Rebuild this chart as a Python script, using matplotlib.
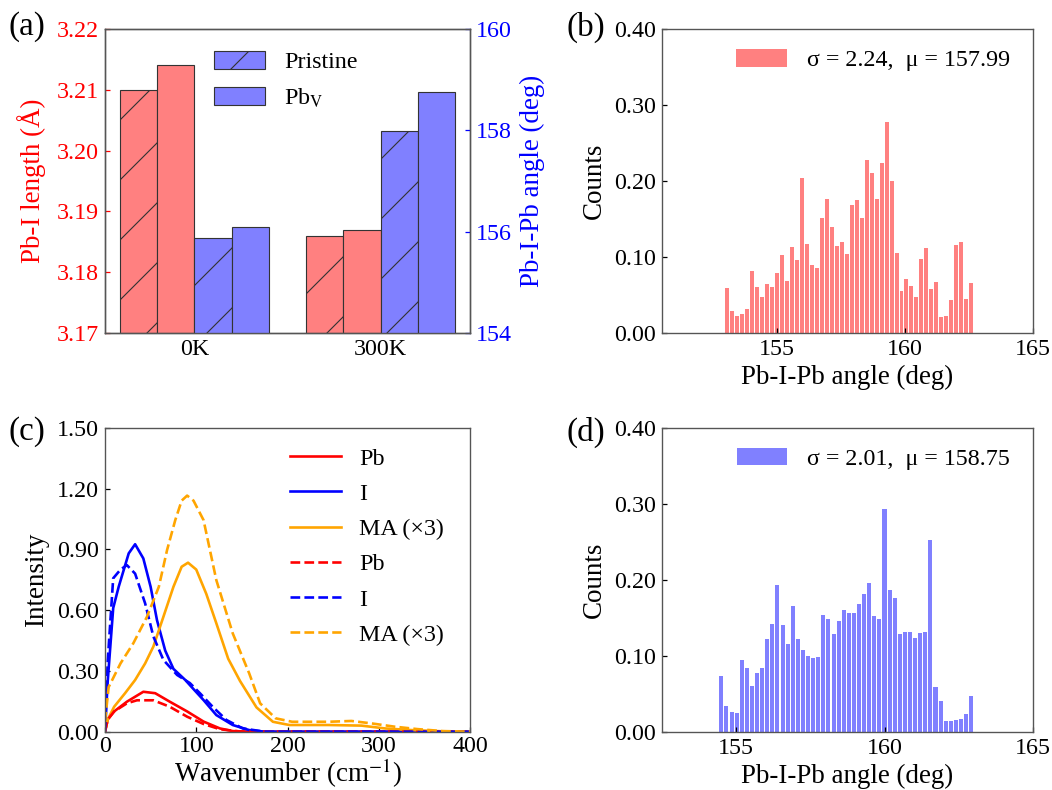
import numpy as np
import matplotlib
matplotlib.use("Agg")
import matplotlib.pyplot as plt

# ---------------------------------------------------------------------------
# Data
# ---------------------------------------------------------------------------

temps = ["0K", "300K"]
bond_pristine = [3.2100, 3.1860]    # Pb-I length (A)
bond_pbv = [3.2141, 3.1870]
angle_pristine = [155.87, 157.99]   # Pb-I-Pb angle (deg)
angle_pbv = [156.10, 158.75]

# (b) angle histogram, 50 bins
hist_b_range = (152.97, 162.70)
hist_b = [0.0596, 0.0285, 0.0224, 0.0254, 0.0320, 0.0816, 0.0610, 0.0480, 0.0640, 0.0610,
          0.0790, 0.1030, 0.0690, 0.1130, 0.0960, 0.2035, 0.1175, 0.0890, 0.0860, 0.1518,
          0.1760, 0.1400, 0.1150, 0.1200, 0.1040, 0.1680, 0.1754, 0.1518, 0.2280, 0.2110,
          0.1760, 0.2240, 0.2770, 0.1996, 0.1057, 0.0553, 0.0710, 0.0623, 0.0480, 0.0974,
          0.1123, 0.0575, 0.0675, 0.0206, 0.0228, 0.0439, 0.1162, 0.1197, 0.0452, 0.0662]

# (d) angle histogram, 50 bins
hist_d_range = (154.43, 163.02)
hist_d = [0.0732, 0.0342, 0.0263, 0.0241, 0.0939, 0.0838, 0.0605, 0.0776, 0.0842, 0.1215,
          0.1420, 0.1934, 0.1400, 0.1154, 0.1650, 0.1215, 0.1075, 0.0990, 0.0974, 0.0978,
          0.1535, 0.1480, 0.1290, 0.1456, 0.1605, 0.1560, 0.1560, 0.1680, 0.1810, 0.1960,
          0.1526, 0.1480, 0.2930, 0.1870, 0.1754, 0.1290, 0.1316, 0.1316, 0.1237, 0.1300,
          0.1316, 0.2520, 0.0592, 0.0408, 0.0136, 0.0136, 0.0158, 0.0171, 0.0228, 0.0465]

# (c) vibrational density of states
pb_x = [0, 3, 10, 24, 42, 55, 71, 90, 108, 126, 140, 160, 400]
pb_y = [0, 0.06, 0.10, 0.148, 0.197, 0.19, 0.148, 0.10, 0.05, 0.016, 0.003, 0, 0]
pb2_x = [0, 3, 10, 24, 35, 53, 71, 90, 108, 126, 150, 400]
pb2_y = [0, 0.06, 0.10, 0.14, 0.155, 0.155, 0.123, 0.074, 0.038, 0.012, 0, 0]

i_x = [0, 3, 9, 15, 26, 33, 42, 50, 57, 66, 75, 88, 95, 108, 122, 140, 158, 175, 400]
i_y = [0, 0.25, 0.61, 0.715, 0.88, 0.925, 0.855, 0.715, 0.55, 0.40, 0.31, 0.255, 0.22,
       0.156, 0.082, 0.033, 0.008, 0, 0]
i2_x = [0, 3, 9, 17, 24, 33, 44, 53, 64, 79, 93, 104, 118, 133, 151, 175, 400]
i2_y = [0, 0.35, 0.757, 0.80, 0.822, 0.78, 0.633, 0.47, 0.354, 0.28, 0.24, 0.19, 0.123,
        0.058, 0.016, 0, 0]

ma_x = [0, 3, 10, 22, 33, 44, 53, 64, 75, 84, 91, 100, 111, 122, 135, 148, 166, 184,
        202, 245, 281, 307, 336, 370, 400]
ma_y = [0, 0.06, 0.123, 0.19, 0.255, 0.337, 0.42, 0.567, 0.715, 0.814, 0.834, 0.80, 0.68,
        0.535, 0.36, 0.25, 0.12, 0.049, 0.033, 0.033, 0.03, 0.016, 0.008, 0.002, 0]
ma2_x = [0, 4, 17, 31, 46, 59, 68, 77, 84, 90, 97, 108, 122, 140, 158, 170, 187, 205,
         245, 270, 292, 317, 342, 370, 400]
ma2_y = [0.05, 0.22, 0.337, 0.436, 0.567, 0.715, 0.896, 1.044, 1.14, 1.165, 1.14, 1.044,
         0.748, 0.485, 0.288, 0.14, 0.066, 0.049, 0.049, 0.053, 0.041, 0.025, 0.013, 0.003, 0]

# ---------------------------------------------------------------------------
# Style
# ---------------------------------------------------------------------------

plt.rcParams["font.family"] = ["Liberation Serif", "DejaVu Serif"]
plt.rcParams["mathtext.fontset"] = "stix"
plt.rcParams["hatch.linewidth"] = 0.45
plt.rcParams["axes.linewidth"] = 0.55
plt.rcParams["axes.edgecolor"] = "#555555"

TICK_FS = 9.6
LABEL_FS = 10.8
RED = "#ff0000"
BLUE = "#0000ff"
PINK = "#ff8080"
LILAC = "#8080ff"

# high dpi so the "/" hatch comes out as sparse as in the original
DPI = 180
fig = plt.figure(figsize=(1052 / DPI, 790 / DPI), dpi=DPI)

ax_a = fig.add_axes([0.0998, 0.5785, 0.3470, 0.3848])
ax_b = fig.add_axes([0.6293, 0.5785, 0.3527, 0.3848])
ax_c = fig.add_axes([0.0998, 0.0738, 0.3470, 0.3848])
ax_d = fig.add_axes([0.6293, 0.0738, 0.3527, 0.3848])


def style_ticks(ax, **kw):
    ax.tick_params(direction="in", length=2.0, width=0.5, pad=2.5,
                   labelsize=TICK_FS, **kw)


# ---------------------------------------------------------------------------
# (a) bond length / angle bars
# ---------------------------------------------------------------------------

x = np.arange(len(temps))
w = 0.2
edge = "#333333"
ax_a.bar(x - 1.5 * w, bond_pristine, w, color=PINK, edgecolor=edge, lw=0.45, hatch="/")
ax_a.bar(x - 0.5 * w, bond_pbv, w, color=PINK, edgecolor=edge, lw=0.45)
ax_a.set_ylim(3.17, 3.22)
ax_a.set_yticks(np.arange(3.17, 3.2201, 0.01))
ax_a.set_yticklabels([f"{v:.2f}" for v in np.arange(3.17, 3.2201, 0.01)])
ax_a.set_xlim(-0.48, 1.48)
ax_a.set_xticks(x)
ax_a.set_xticklabels(temps)
ax_a.set_ylabel("Pb-I length (Å)", color=RED, fontsize=LABEL_FS, labelpad=4)
style_ticks(ax_a)
ax_a.tick_params(axis="y", colors=RED, labelcolor=RED)
ax_a.tick_params(axis="x", length=0)

ax_a2 = ax_a.twinx()
h1 = ax_a2.bar(x + 0.5 * w, angle_pristine, w, color=LILAC, edgecolor=edge, lw=0.45,
               hatch="/", label="Pristine")
h2 = ax_a2.bar(x + 1.5 * w, angle_pbv, w, color=LILAC, edgecolor=edge, lw=0.45,
               label=r"Pb$_{\rm V}$")
ax_a2.set_ylim(154, 160)
ax_a2.set_yticks([154, 156, 158, 160])
ax_a2.set_ylabel("Pb-I-Pb angle (deg)", color=BLUE, fontsize=LABEL_FS, labelpad=3)
style_ticks(ax_a2)
ax_a2.tick_params(axis="y", colors=BLUE, labelcolor=BLUE)
ax_a2.legend(handles=[h1, h2], loc="upper left", bbox_to_anchor=(0.24, 0.998),
             frameon=False, fontsize=TICK_FS, handlelength=2.1, handleheight=0.75,
             labelspacing=0.55, handletextpad=0.8)

# ---------------------------------------------------------------------------
# (b) / (d) angle histograms
# ---------------------------------------------------------------------------


def draw_hist(ax, heights, rng, color, label, xlim):
    edges = np.linspace(rng[0], rng[1], len(heights) + 1)
    bw = edges[1] - edges[0]
    ax.bar(edges[:-1] + bw * 0.4, heights, width=bw * 0.8, color=color, label=label)
    ax.set_xlim(*xlim)
    ax.set_ylim(0, 0.4)
    ax.set_xticks([155, 160, 165])
    ax.set_yticks(np.arange(0, 0.401, 0.1))
    ax.set_yticklabels([f"{v:.2f}" for v in np.arange(0, 0.401, 0.1)])
    ax.set_xlabel("Pb-I-Pb angle (deg)", fontsize=LABEL_FS, labelpad=2)
    ax.set_ylabel("Counts", fontsize=LABEL_FS, labelpad=3)
    style_ticks(ax)
    ax.legend(loc="upper right", bbox_to_anchor=(0.997, 1.005), frameon=False,
              fontsize=TICK_FS, handlelength=2.1, handleheight=0.75, handletextpad=0.85)


draw_hist(ax_b, hist_b, hist_b_range, PINK, "σ = 2.24,  μ = 157.99", (150.5, 165))
draw_hist(ax_d, hist_d, hist_d_range, LILAC, "σ = 2.01,  μ = 158.75", (152.5, 165))

# ---------------------------------------------------------------------------
# (c) VDOS
# ---------------------------------------------------------------------------

lw = 1.05
ax_c.plot(pb_x, pb_y, color="red", lw=lw, label="Pb")
ax_c.plot(i_x, i_y, color="blue", lw=lw, label="I")
ax_c.plot(ma_x, ma_y, color="orange", lw=lw, label="MA (×3)")
ax_c.plot(pb2_x, pb2_y, color="red", lw=lw, ls="--", label="Pb")
ax_c.plot(i2_x, i2_y, color="blue", lw=lw, ls="--", label="I")
ax_c.plot(ma2_x, ma2_y, color="orange", lw=lw, ls="--", label="MA (×3)")
ax_c.set_xlim(0, 400)
ax_c.set_ylim(0, 1.5)
ax_c.set_xticks([0, 100, 200, 300, 400])
ax_c.set_yticks(np.arange(0, 1.501, 0.3))
ax_c.set_yticklabels([f"{v:.2f}" for v in np.arange(0, 1.501, 0.3)])
ax_c.set_xlabel(r"Wavenumber (cm$^{-1}$)", fontsize=LABEL_FS, labelpad=0)
ax_c.set_ylabel("Intensity", fontsize=LABEL_FS, labelpad=3)
style_ticks(ax_c)
ax_c.tick_params(axis="x", pad=1.6)
ax_c.legend(loc="upper left", bbox_to_anchor=(0.447, 1.005), frameon=False,
            fontsize=TICK_FS, handlelength=2.15, labelspacing=0.56, handletextpad=0.75)

# panel letters
for lbl, px, py in [("(a)", 9, 27), ("(b)", 566, 27), ("(c)", 9, 432), ("(d)", 566, 432)]:
    fig.text(px / 1052, 1 - py / 790, lbl, fontsize=13.2, va="center", ha="left")

fig.savefig("out.png", dpi=DPI)
